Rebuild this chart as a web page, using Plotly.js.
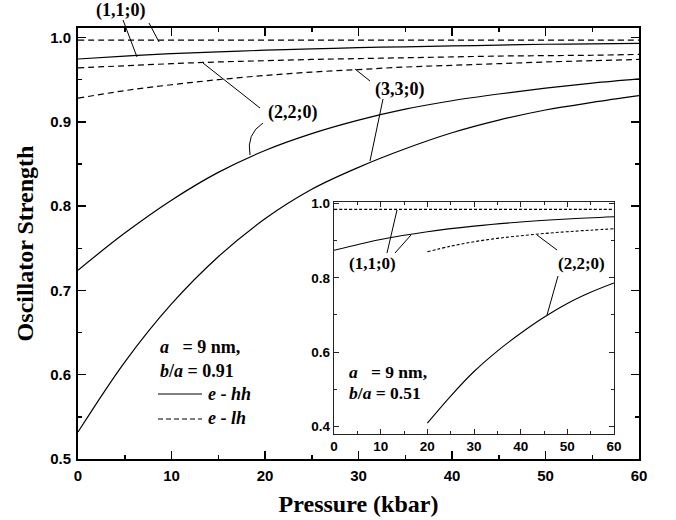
<!DOCTYPE html>
<html><head><meta charset="utf-8">
<script src="https://cdn.plot.ly/plotly-3.0.1.min.js"></script>
<style>body{margin:0;background:#fff}#c{width:676px;height:520px}</style>
</head><body><div id="c"></div>
<script>
// ---- data (main panel, b/a = 0.91) ----
const pressure = [0,5,10,15,20,25,30,35,40,45,50,55,60];
const hh_110 = [0.9745,0.978,0.981,0.983,0.985,0.9865,0.988,0.989,0.990,0.991,0.992,0.9925,0.993];
const lh_110 = [0.997,0.997,0.997,0.997,0.997,0.997,0.997,0.997,0.997,0.997,0.997,0.997,0.997];
const hh_220 = [0.724,0.768,0.807,0.840,0.866,0.886,0.902,0.915,0.925,0.933,0.940,0.946,0.951];
const lh_220 = [0.964,0.9665,0.969,0.971,0.9725,0.974,0.975,0.976,0.977,0.978,0.9785,0.979,0.980];
const hh_330 = [0.532,0.615,0.684,0.740,0.785,0.820,0.846,0.868,0.887,0.902,0.914,0.923,0.931];
const lh_330 = [0.928,0.937,0.944,0.950,0.955,0.959,0.962,0.965,0.967,0.969,0.971,0.9725,0.974];
// ---- data (inset, b/a = 0.51) ----
const pressureInset = [0,10,20,30,40,50,60];
const inset_hh_110 = [0.874,0.903,0.924,0.939,0.950,0.958,0.964];
const inset_lh_110 = [0.984,0.984,0.984,0.984,0.984,0.984,0.984];
const pressureInset22 = [20,25,30,35,40,45,50,55,60];
const inset_hh_220 = [0.409,0.482,0.548,0.603,0.651,0.694,0.731,0.761,0.786];
const inset_lh_220 = [0.870,0.885,0.897,0.906,0.913,0.919,0.924,0.928,0.932];
// ---- labels ----
const xTitle = 'Pressure (kbar)';
const yTitle = 'Oscillator Strength';

const serif = 'Liberation Serif, Times New Roman, serif';
const sans = 'Liberation Sans, Arial, sans-serif';

function tr(x, y, dash, axes, w) {
  return {x: x, y: y, type: 'scatter', mode: 'lines', xaxis: axes[0], yaxis: axes[1],
    line: {color: '#000', width: w, dash: dash, shape: 'spline', smoothing: 1},
    hoverinfo: 'skip', showlegend: false};
}
const main = ['x', 'y'], ins = ['x2', 'y2'];
const data = [
  tr(pressure, lh_110, '6px,4px', main, 1.2),
  tr(pressure, hh_110, 'solid', main, 1.2),
  tr(pressure, lh_220, '6px,4px', main, 1.2),
  tr(pressure, lh_330, '6px,4px', main, 1.2),
  tr(pressure, hh_220, 'solid', main, 1.2),
  tr(pressure, hh_330, 'solid', main, 1.2),
  tr(pressureInset, inset_lh_110, '3px,2px', ins, 1.1),
  tr(pressureInset, inset_hh_110, 'solid', ins, 1.1),
  tr(pressureInset22, inset_lh_220, '3px,2px', ins, 1.1),
  tr(pressureInset22, inset_hh_220, 'solid', ins, 1.1)
];

// pixel -> paper helpers (plot area: x 78..639, y 28..459)
const L = 78, T = 28, W = 561, H = 431;
const px = v => (v - L) / W;
const py = v => (T + H - v) / H;
function seg(x0, y0, x1, y1, dash) {
  return {type: 'line', xref: 'paper', yref: 'paper', x0: px(x0), y0: py(y0), x1: px(x1), y1: py(y1),
    line: {color: '#000', width: 1, dash: dash || 'solid'}};
}
const shapes = [
  seg(123, 20, 137, 57), seg(149, 23, 159, 42),
  seg(260, 108, 203, 63),
  {type: 'path', xref: 'paper', yref: 'paper',
   path: 'M ' + px(263) + ' ' + py(123) + ' Q ' + px(246) + ' ' + py(134) + ' ' + px(250) + ' ' + py(155),
   line: {color: '#000', width: 1}},
  seg(370, 81, 355, 69), seg(383, 99, 370, 161),
  seg(158, 394, 202, 394), seg(158, 419, 202, 419, '5px,3px'),
  // inset leaders
  seg(387, 253, 397, 210), seg(395, 253, 411, 235),
  seg(557, 250, 537, 235), seg(558, 276, 547, 315)
];
function txt(x, y, s, size, anchor) {
  return {xref: 'paper', yref: 'paper', x: px(x), y: py(y), text: s, showarrow: false,
    xanchor: anchor || 'center', yanchor: 'middle',
    font: {family: serif, size: size || 18, color: '#000', weight: 'bold'}};
}
const sp = '\u00a0';
const annotations = [
  txt(120, 10, '(1,1;0)'),
  txt(292, 112, '(2,2;0)'),
  txt(399, 89, '(3,3;0)'),
  txt(158, 347, '<i>a</i>' + sp + sp + sp + '= 9 nm,', 18, 'left'),
  txt(158, 371, '<i>b</i>/<i>a</i> = 0.91', 18, 'left'),
  txt(206, 394, '<i>e</i> - <i>hh</i>', 18, 'left'),
  txt(206, 418, '<i>e</i> - <i>lh</i>', 18, 'left'),
  txt(372, 263, '(1,1;0)', 17),
  txt(581, 263, '(2,2;0)', 17),
  txt(347, 372, '<i>a</i>' + sp + sp + sp + '= 9 nm,', 17.5, 'left'),
  txt(347, 393, '<i>b</i>/<i>a</i> = 0.51', 17.5, 'left')
];

const tickFont = {family: sans, size: 15, color: '#000', weight: 'bold'};
const layout = {
  width: 676, height: 520,
  margin: {l: L, r: 676 - L - W, t: T, b: 520 - T - H},
  paper_bgcolor: '#fff', plot_bgcolor: '#fff',
  showlegend: false,
  xaxis: {
    range: [0, 60], dtick: 10, tick0: 0, showgrid: false, zeroline: false,
    showline: true, linecolor: '#000', linewidth: 2, mirror: 'ticks',
    ticks: 'inside', ticklen: 8, tickwidth: 1.5, tickcolor: '#000',
    minor: {ticks: 'inside', dtick: 5, ticklen: 4, tickwidth: 1.5, tickcolor: '#000', showgrid: false},
    tickfont: tickFont, ticklabelstandoff: 2,
    title: {text: xTitle, font: {family: serif, size: 24, color: '#000', weight: 'bold'}, standoff: 12}
  },
  yaxis: {
    range: [0.5, 1.0113], dtick: 0.1, tick0: 0.5, tickformat: '.1f', showgrid: false, zeroline: false,
    showline: true, linecolor: '#000', linewidth: 2, mirror: 'ticks',
    ticks: 'inside', ticklen: 8, tickwidth: 1.5, tickcolor: '#000',
    minor: {ticks: 'inside', dtick: 0.05, ticklen: 4, tickwidth: 1.5, tickcolor: '#000', showgrid: false},
    tickfont: tickFont, ticklabelstandoff: 2,
    title: {text: yTitle, font: {family: serif, size: 24, color: '#000', weight: 'bold'}, standoff: 10}
  },
  xaxis2: {
    domain: [px(334), px(614)], anchor: 'y2',
    range: [0, 60], dtick: 10, tick0: 0, showgrid: false, zeroline: false,
    showline: true, linecolor: '#222', linewidth: 1.2, mirror: 'ticks',
    ticks: 'inside', ticklen: 5, tickwidth: 1, tickcolor: '#222',
    minor: {ticks: 'inside', dtick: 5, ticklen: 3, tickwidth: 1, tickcolor: '#222', showgrid: false},
    tickfont: {family: sans, size: 13.5, color: '#000', weight: 'bold'}, ticklabelstandoff: 0
  },
  yaxis2: {
    domain: [py(434), py(202.3)], anchor: 'x2',
    range: [0.38, 1.003], dtick: 0.2, tick0: 0.4, tickformat: '.1f', showgrid: false, zeroline: false,
    showline: true, linecolor: '#222', linewidth: 1.2, mirror: 'ticks',
    ticks: 'inside', ticklen: 5, tickwidth: 1, tickcolor: '#222',
    minor: {ticks: 'inside', dtick: 0.1, ticklen: 3, tickwidth: 1, tickcolor: '#222', showgrid: false},
    tickfont: {family: sans, size: 13.5, color: '#000', weight: 'bold'}, ticklabelstandoff: 0
  },
  shapes: shapes,
  annotations: annotations
};
Plotly.newPlot('c', data, layout, {displayModeBar: false, staticPlot: true});
</script>
</body></html>
